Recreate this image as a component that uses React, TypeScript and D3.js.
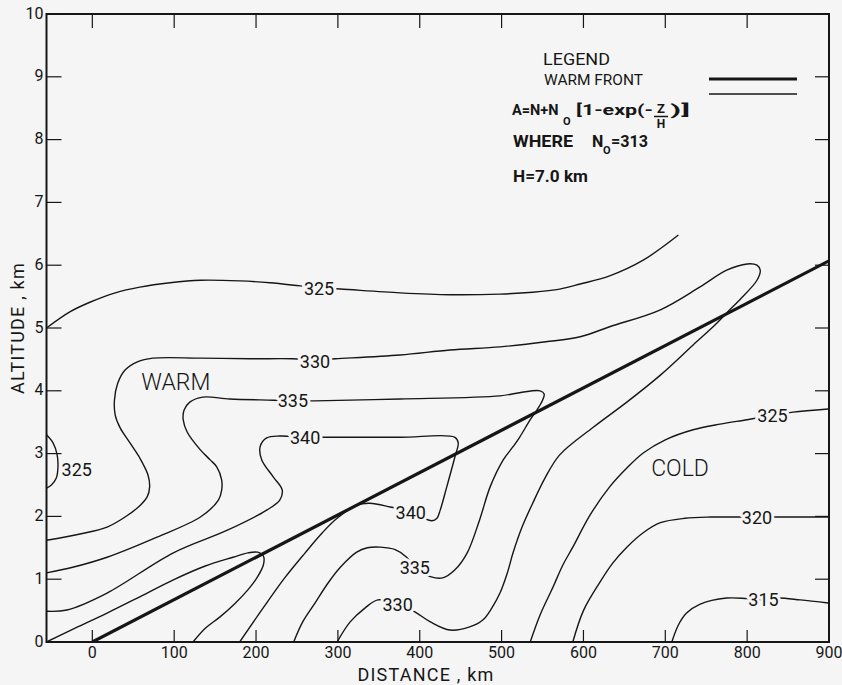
import React from 'react';
import * as d3 from 'd3';

// ---------- data (distance km, altitude km) ----------
const xTickValues = [0, 100, 200, 300, 400, 500, 600, 700, 800, 900];
const yTickValues = [0, 1, 2, 3, 4, 5, 6, 7, 8, 9, 10];

const warmFront: [number, number][] = [[0, 0], [900, 6.07]];

const c325Top: [number, number][] = [
  [-56, 5.0], [-27, 5.26], [-3, 5.41], [28, 5.56], [58, 5.65], [95, 5.72], [132, 5.76],
  [180, 5.75], [217, 5.72], [254, 5.67], [276, 5.64], [303, 5.62], [376, 5.56], [437, 5.53],
  [498, 5.54], [538, 5.57], [571, 5.62], [596, 5.7], [632, 5.83], [673, 6.08], [716, 6.48],
];

const c325Small: [number, number][] = [
  [-56, 3.3], [-48, 3.17], [-43, 2.98], [-42, 2.79], [-44, 2.61], [-50, 2.5], [-56, 2.45],
];

const c325Right: [number, number][] = [
  [535, 0], [547, 0.43], [563, 0.88], [575, 1.23], [587, 1.51], [608, 2.02], [632, 2.47],
  [653, 2.77], [673, 3.01], [700, 3.22], [734, 3.38], [767, 3.47], [800, 3.54], [831, 3.61],
  [856, 3.66], [899, 3.71],
];

const c330: [number, number][] = [
  [-56, 1.62], [-15, 1.72], [18, 1.83], [40, 1.99], [58, 2.17], [67, 2.31], [70, 2.47],
  [68, 2.66], [58, 2.93], [46, 3.17], [34, 3.41], [28, 3.61], [27, 3.85], [31, 4.12],
  [40, 4.33], [55, 4.46], [74, 4.52], [132, 4.52], [193, 4.51], [245, 4.51], [270, 4.49],
  [297, 4.51], [376, 4.57], [437, 4.65], [498, 4.7], [554, 4.78], [596, 4.86], [632, 5.02],
  [694, 5.29], [742, 5.65], [775, 5.92], [800, 6.02], [812, 6.0], [816, 5.92], [812, 5.76],
  [791, 5.45], [775, 5.24], [761, 5.05], [734, 4.73], [694, 4.25], [653, 3.82], [612, 3.42],
  [571, 2.98], [553, 2.61], [538, 2.21], [525, 1.83], [514, 1.42], [507, 1.1], [498, 0.78],
  [488, 0.54], [477, 0.35], [461, 0.24], [437, 0.19], [413, 0.32], [394, 0.48], [373, 0.6],
  [349, 0.67], [333, 0.54], [315, 0.32], [299, 0],
];

const c335: [number, number][] = [
  [-56, 1.1], [-24, 1.19], [18, 1.35], [79, 1.67], [132, 1.99], [154, 2.26], [158, 2.42],
  [158, 2.58], [152, 2.79], [144, 2.9], [132, 3.06], [116, 3.34], [111, 3.54], [112, 3.69],
  [119, 3.82], [135, 3.9], [168, 3.87], [221, 3.85], [245, 3.84], [272, 3.84], [376, 3.87],
  [498, 3.92], [522, 3.97], [547, 4.0], [552, 3.95], [550, 3.85], [543, 3.69], [535, 3.54],
  [522, 3.26], [514, 3.11], [502, 2.9], [486, 2.47], [473, 1.94], [458, 1.42], [443, 1.15],
  [428, 1.02], [413, 1.04], [394, 1.18], [384, 1.35], [370, 1.47], [352, 1.51], [336, 1.5],
  [323, 1.43], [303, 1.19], [288, 0.94], [272, 0.62], [257, 0.32], [246, 0],
];

const c340: [number, number][] = [
  [-56, 0.49], [-31, 0.51], [18, 0.78], [99, 1.42], [165, 1.78], [213, 2.1], [229, 2.26],
  [232, 2.42], [221, 2.63], [207, 2.9], [205, 3.11], [213, 3.25], [229, 3.28], [260, 3.26],
  [291, 3.26], [376, 3.26], [443, 3.26], [447, 3.17], [443, 2.95], [433, 2.47], [425, 2.1],
  [421, 1.97], [415, 1.93], [389, 2.07], [364, 2.15], [339, 2.21], [323, 2.18], [299, 1.97],
  [281, 1.74], [260, 1.42], [235, 1.02], [207, 0.51], [180, 0],
];

const c345: [number, number][] = [
  [-56, 0], [-21, 0.22], [18, 0.46], [58, 0.72], [99, 0.99], [138, 1.21], [172, 1.35],
  [190, 1.42], [202, 1.43], [209, 1.37], [209, 1.23], [201, 1.02], [190, 0.83], [174, 0.61],
  [156, 0.4], [138, 0.22], [123, 0],
];

const c320: [number, number][] = [
  [587, 0], [600, 0.5], [620, 0.95], [636, 1.26], [653, 1.51], [673, 1.74], [694, 1.9],
  [724, 1.97], [755, 1.99], [788, 1.99], [812, 1.99], [837, 1.99], [899, 1.99],
];

const c315: [number, number][] = [
  [708, 0], [716, 0.27], [726, 0.46], [742, 0.6], [775, 0.7], [800, 0.69], [820, 0.67],
  [837, 0.7], [865, 0.67], [899, 0.62],
];

const contours = [c325Top, c325Small, c325Right, c330, c335, c340, c345, c320, c315];

const contourLabels: { text: string; at: [number, number] }[] = [
  { text: '325', at: [277, 5.63] },
  { text: '325', at: [-19, 2.74] },
  { text: '325', at: [831, 3.61] },
  { text: '330', at: [272, 4.47] },
  { text: '330', at: [373, 0.59] },
  { text: '335', at: [245, 3.84] },
  { text: '335', at: [394, 1.18] },
  { text: '340', at: [260, 3.26] },
  { text: '340', at: [389, 2.07] },
  { text: '320', at: [812, 1.99] },
  { text: '315', at: [820, 0.67] },
];

const regionLabels: { text: string; at: [number, number] }[] = [
  { text: 'WARM', at: [102, 4.14] },
  { text: 'COLD', at: [718, 2.77] },
];

// ---------- drawing ----------
const W = 842;
const H = 685;
const BG = '#f5f5f5';
const INK = '#161616';
const FONT = "Roboto, 'Liberation Sans', 'DejaVu Sans', sans-serif";

const x = d3.scaleLinear().domain([-56, 900]).range([46.5, 829]);
const y = d3.scaleLinear().domain([0, 10]).range([642, 14]);

const smooth = d3
  .line<[number, number]>()
  .x((d) => x(d[0]))
  .y((d) => y(d[1]))
  .curve(d3.curveCatmullRom.alpha(0.5));

const straight = d3
  .line<[number, number]>()
  .x((d) => x(d[0]))
  .y((d) => y(d[1]));

export default function App() {
  const [x0, x1] = x.range();
  const [y0, y1] = y.range();
  return (
    <svg
      width={W}
      height={H}
      viewBox={`0 0 ${W} ${H}`}
      style={{ position: 'absolute', left: 0, top: 0, background: BG }}
      fontFamily={FONT}
    >
      <rect x={0} y={0} width={W} height={H} fill={BG} />
      <defs>
        <clipPath id="plot">
          <rect x={x0} y={y1} width={x1 - x0} height={y0 - y1} />
        </clipPath>
      </defs>

      <g clipPath="url(#plot)">
        {contours.map((c, i) => (
          <path key={i} d={smooth(c) || ''} fill="none" stroke={INK} strokeWidth={1.4} />
        ))}
        <path d={straight(warmFront) || ''} fill="none" stroke={INK} strokeWidth={3.2} />
      </g>

      {contourLabels.map((l, i) => (
        <text
          key={i}
          x={x(l.at[0])}
          y={y(l.at[1])}
          textAnchor="middle"
          dominantBaseline="central"
          fontSize={18}
          fill={INK}
          stroke={BG}
          strokeWidth={6}
          paintOrder="stroke"
          strokeLinejoin="round"
        >
          {l.text}
        </text>
      ))}

      {regionLabels.map((l, i) => (
        <text
          key={i}
          x={x(l.at[0])}
          y={y(l.at[1])}
          textAnchor="middle"
          dominantBaseline="central"
          fontSize={23}
          fontWeight={300}
          fill={INK}
        >
          {l.text}
        </text>
      ))}

      {/* frame */}
      <rect x={x0} y={y1} width={x1 - x0} height={y0 - y1} fill="none" stroke={INK} strokeWidth={2} />

      {/* ticks */}
      {xTickValues.map((v) => (
        <g key={'xt' + v}>
          <line x1={x(v)} x2={x(v)} y1={y0} y2={y0 - 12} stroke={INK} strokeWidth={1.2} />
          <line x1={x(v)} x2={x(v)} y1={y1} y2={y1 + 14} stroke={INK} strokeWidth={1.2} />
          <text x={x(v)} y={658} textAnchor="middle" fontSize={16} fill={INK}>
            {v}
          </text>
        </g>
      ))}
      {yTickValues.map((v) => (
        <g key={'yt' + v}>
          <line x1={x0} x2={x0 + 15} y1={y(v)} y2={y(v)} stroke={INK} strokeWidth={1.2} />
          <line x1={x1} x2={x1 - 14} y1={y(v)} y2={y(v)} stroke={INK} strokeWidth={1.2} />
          <text x={x0 - 3} y={y(v) - 1} textAnchor="end" dominantBaseline="central" fontSize={16} fill={INK}>
            {v}
          </text>
        </g>
      ))}

      {/* axis titles */}
      <text x={426} y={681} textAnchor="middle" fontSize={18} letterSpacing={1.2} fill={INK}>
        DISTANCE , km
      </text>
      <text
        transform={`translate(24, 328) rotate(-90)`}
        textAnchor="middle"
        fontSize={18}
        letterSpacing={1.2}
        fill={INK}
      >
        ALTITUDE , km
      </text>

      {/* legend */}
      <g fill={INK}>
        <text x={543} y={65} fontSize={17} textLength={67} lengthAdjust="spacingAndGlyphs">LEGEND</text>
        <text x={544} y={85} fontSize={15} textLength={99} lengthAdjust="spacingAndGlyphs">WARM FRONT</text>
        <line x1={709} x2={797} y1={79} y2={79} stroke={INK} strokeWidth={3} />
        <line x1={709} x2={797} y1={94} y2={94} stroke={INK} strokeWidth={1.4} />

        <g fontWeight={700}>
          <text x={512} y={115} fontSize={14.5}>A=N+N</text>
          <text x={563} y={125} fontSize={11}>O</text>
          <text x={576} y={115} fontSize={15} textLength={77} lengthAdjust="spacingAndGlyphs">[1-exp(-</text>
          <text x={661} y={113} fontSize={13} textAnchor="middle">Z</text>
          <line x1={654} x2={668} y1={116.5} y2={116.5} stroke={INK} strokeWidth={1.5} />
          <text x={661} y={128} fontSize={12} textAnchor="middle">H</text>
          <text x={670} y={115} fontSize={15} textLength={20} lengthAdjust="spacingAndGlyphs">)]</text>

          <text x={513} y={147} fontSize={16} textLength={60} lengthAdjust="spacingAndGlyphs">WHERE</text>
          <text x={592} y={147} fontSize={16}>N</text>
          <text x={603} y={154} fontSize={11}>O</text>
          <text x={611} y={147} fontSize={16} textLength={37} lengthAdjust="spacingAndGlyphs">=313</text>

          <text x={513} y={182} fontSize={16} textLength={75} lengthAdjust="spacingAndGlyphs">H=7.0 km</text>
        </g>
      </g>
    </svg>
  );
}
